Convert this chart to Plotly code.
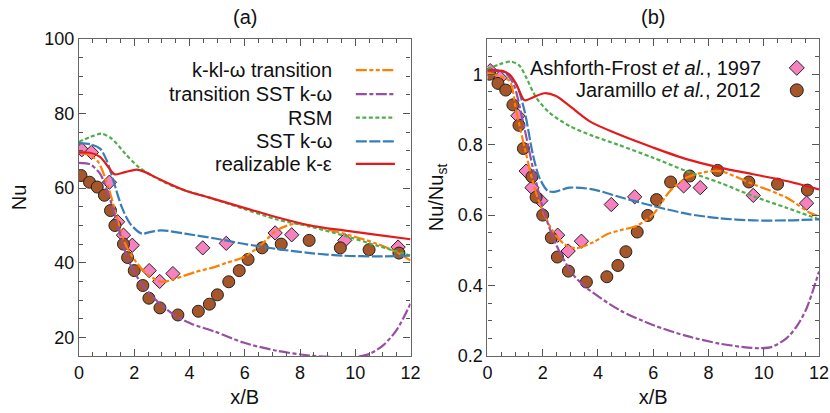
import plotly.graph_objects as go
from plotly.subplots import make_subplots

# ---------------- data: panel (a) Nu ----------------
red_a_x = [0, 0.4, 0.76, 1.06, 1.3, 1.67, 2.09, 2.39, 3.0, 3.84, 4.75, 5.95, 7.16, 8.37, 9.58, 10.79, 12]
red_a_y = [69.6, 69.5, 68.4, 65.7, 63.7, 64.3, 65.0, 64.3, 62.1, 59.4, 57.4, 54.8, 52.2, 50.0, 48.7, 47.5, 46.3]

green_a_x = [0, 0.4, 0.82, 1.18, 1.67, 2.15, 2.63, 3.48, 4.75, 5.95, 7.16, 8.37, 9.58, 10.79, 12]
green_a_y = [72.4, 73.7, 74.6, 73.3, 69.3, 65.7, 63.4, 60.3, 57.4, 54.5, 51.6, 49.7, 47.3, 44.6, 41.9]

blue_a_x = [0, 0.4, 0.76, 1.0, 1.24, 1.55, 1.85, 2.27, 2.6, 3.0, 3.84, 4.93, 5.95, 7.16, 8.37, 9.58, 10.79, 12]
blue_a_y = [72.1, 71.8, 70.6, 67.5, 62.1, 54.9, 50.5, 47.8, 48.3, 48.7, 47.8, 46.5, 45.1, 43.7, 42.6, 41.9, 41.7, 41.9]

orange_a_x = [0, 0.4, 0.7, 1.06, 1.37, 1.67, 2.03, 2.45, 3.0, 3.48, 4.2, 4.93, 5.35, 5.95, 6.56, 7.16, 7.76, 8.37, 9.58, 10.79, 11.5, 12]
orange_a_y = [69.6, 68.8, 67.0, 60.3, 52.2, 45.1, 40.6, 37.0, 34.9, 35.7, 37.5, 38.9, 40.0, 41.5, 44.6, 48.7, 50.4, 50.0, 47.8, 45.1, 42.8, 40.6]

purple_a_x = [0, 0.4, 0.76, 1.06, 1.42, 1.79, 2.27, 2.87, 3.48, 4.08, 4.93, 5.95, 7.16, 8.37, 9.2, 9.9, 10.5, 11.03, 11.5, 12]
purple_a_y = [66.8, 66.4, 63.9, 58.5, 49.5, 40.6, 34.3, 29.4, 25.8, 23.6, 21.5, 18.6, 16.4, 15.1, 14.7, 14.6, 15.5, 18.0, 22.0, 29.0]

# experiments (panel a)
jar_x = [0.07, 0.38, 0.66, 0.92, 1.14, 1.3, 1.61, 1.76, 2.0, 2.31, 2.53, 2.93, 3.58, 4.32, 4.72, 5.01, 5.42, 5.8, 6.12, 6.63, 7.32, 8.33, 9.46, 10.5, 11.58]
jar_a_y = [63.4, 61.6, 60.3, 58.1, 54.0, 50.0, 45.0, 41.4, 37.9, 33.9, 30.5, 27.9, 26.0, 27.0, 28.9, 31.4, 34.9, 37.9, 40.9, 44.0, 45.0, 46.0, 44.0, 43.5, 42.6]
ash_x = [0.1, 0.45, 1.1, 1.4, 1.61, 1.93, 2.54, 2.92, 3.4, 4.48, 5.33, 7.1, 7.7, 9.62, 11.55]
ash_a_y = [70.3, 69.6, 61.6, 51.0, 47.4, 44.7, 37.9, 35.0, 37.1, 44.0, 45.2, 48.0, 47.5, 46.0, 44.2]

# ---------------- data: panel (b) Nu/Nu_st ----------------
red_b_x = [0, 0.55, 0.85, 1.1, 1.34, 1.64, 2.06, 2.48, 2.97, 3.69, 4.72, 5.99, 7.2, 8.41, 9.61, 10.82, 12]
red_b_y = [1.011, 1.009, 0.995, 0.962, 0.926, 0.934, 0.946, 0.938, 0.91, 0.867, 0.83, 0.792, 0.759, 0.735, 0.716, 0.697, 0.673]

green_b_x = [0, 0.43, 0.85, 1.16, 1.4, 1.76, 2.24, 2.97, 3.81, 4.72, 5.99, 7.2, 8.41, 9.61, 10.82, 12]
green_b_y = [1.014, 1.028, 1.036, 1.024, 0.991, 0.934, 0.891, 0.853, 0.825, 0.80, 0.763, 0.725, 0.692, 0.654, 0.621, 0.588]

blue_b_x = [0, 0.67, 1.04, 1.34, 1.64, 1.88, 2.18, 2.42, 2.97, 3.81, 4.85, 5.99, 7.2, 8.41, 9.61, 10.82, 12]
blue_b_y = [1.009, 1.005, 0.972, 0.896, 0.773, 0.706, 0.669, 0.666, 0.678, 0.673, 0.65, 0.626, 0.604, 0.591, 0.585, 0.585, 0.588]

orange_b_x = [0, 0.4, 0.8, 1.04, 1.4, 1.7, 2.0, 2.36, 2.79, 3.2, 3.81, 4.31, 4.85, 5.39, 5.99, 6.6, 7.2, 7.8, 8.41, 9.61, 10.82, 11.66, 12]
orange_b_y = [1.005, 0.995, 0.981, 0.896, 0.773, 0.678, 0.612, 0.555, 0.517, 0.506, 0.522, 0.545, 0.558, 0.569, 0.602, 0.668, 0.706, 0.721, 0.725, 0.688, 0.65, 0.607, 0.597]

purple_b_x = [0, 0.55, 0.92, 1.28, 1.64, 2.0, 2.48, 3.09, 3.58, 4.79, 5.99, 7.2, 8.41, 9.2, 9.85, 10.3, 10.82, 11.2, 11.55, 12]
purple_b_y = [1.01, 1.009, 0.976, 0.867, 0.735, 0.621, 0.517, 0.432, 0.394, 0.33, 0.288, 0.257, 0.235, 0.226, 0.222, 0.226, 0.25, 0.285, 0.335, 0.44]

jar_b_y = [1.0, 0.974, 0.955, 0.913, 0.855, 0.789, 0.709, 0.651, 0.60, 0.536, 0.481, 0.441, 0.41, 0.425, 0.457, 0.496, 0.552, 0.599, 0.644, 0.694, 0.711, 0.727, 0.694, 0.688, 0.671]
ash_b_y = [1.01, 0.99, 0.882, 0.725, 0.678, 0.641, 0.543, 0.498, 0.526, 0.63, 0.652, 0.683, 0.678, 0.656, 0.634]

x_ticks = [0, 2, 4, 6, 8, 10, 12]
ya_ticks = [20, 40, 60, 80, 100]
yb_ticks = [0.2, 0.4, 0.6, 0.8, 1.0]
yb_ticktext = ["0.2", "0.4", "0.6", "0.8", "1"]

model_names = ["k-kl-ω transition", "transition SST k-ω", "RSM", "SST k-ω", "realizable k-ε"]
exp_names = ["Ashforth-Frost <i>et al.</i>, 1997", "Jaramillo <i>et al.</i>, 2012"]

# ---------------- styles ----------------
C_ORANGE = "#FF7F00"
C_PURPLE = "#984EA3"
C_GREEN = "#4DAF4A"
C_BLUE = "#377EB8"
C_RED = "#E41A1C"
C_PINK = "#F781BF"
C_BROWN = "#A65628"
D_ORANGE = "11px,2.5px,4px,2.5px,4px,2.5px"
D_PURPLE = "11px,2.5px,4px,2.5px"
D_GREEN = "4px,2.5px"
D_BLUE = "11px,2.5px"
FONT = "Liberation Sans, Arial, sans-serif"
LW = 2.2
TXT = "#111111"

styles = [(C_ORANGE, D_ORANGE), (C_PURPLE, D_PURPLE), (C_GREEN, D_GREEN), (C_BLUE, D_BLUE), (C_RED, "solid")]

fig = make_subplots(rows=1, cols=2, horizontal_spacing=0.104)

panels = [
    (1, [(orange_a_x, orange_a_y), (purple_a_x, purple_a_y), (green_a_x, green_a_y), (blue_a_x, blue_a_y), (red_a_x, red_a_y)],
     jar_a_y, ash_a_y),
    (2, [(orange_b_x, orange_b_y), (purple_b_x, purple_b_y), (green_b_x, green_b_y), (blue_b_x, blue_b_y), (red_b_x, red_b_y)],
     jar_b_y, ash_b_y),
]

for col, lines, jy, ay in panels:
    fig.add_trace(go.Scatter(x=ash_x, y=ay, mode="markers", showlegend=False,
                             marker=dict(symbol="diamond", size=11, color=C_PINK,
                                         line=dict(color="#222222", width=1))), row=1, col=col)
    fig.add_trace(go.Scatter(x=jar_x, y=jy, mode="markers", showlegend=False,
                             marker=dict(symbol="circle", size=12, color=C_BROWN,
                                         line=dict(color="#222222", width=1))), row=1, col=col)
    for (lx, ly), (c, d), nm in zip(lines, styles, model_names):
        fig.add_trace(go.Scatter(x=lx, y=ly, mode="lines", name=nm, showlegend=False,
                                 line=dict(color=c, dash=d, width=LW, shape="spline", smoothing=0.8)),
                      row=1, col=col)

axis_common = dict(showline=True, linecolor="#666666", linewidth=1.3, mirror="allticks",
                   ticks="inside", ticklen=7, tickwidth=1.2, tickcolor="#555555",
                   showgrid=False, zeroline=False, automargin=False,
                   tickfont=dict(family=FONT, size=18, color=TXT),
                   title_font=dict(family=FONT, size=20, color=TXT))

for col in (1, 2):
    fig.update_xaxes(range=[0, 12], tickvals=x_ticks, title_text="x/B", title_standoff=8,
                     minor=dict(ticks="inside", dtick=0.5, tick0=0, ticklen=4, tickcolor="#555555", showgrid=False),
                     row=1, col=col, **axis_common)

fig.update_yaxes(range=[15, 100], tickvals=ya_ticks, title_text="Nu", title_standoff=12,
                 minor=dict(ticks="inside", dtick=5, tick0=0, ticklen=4, tickcolor="#555555", showgrid=False),
                 row=1, col=1, **axis_common)
fig.update_yaxes(range=[0.2, 1.1], tickvals=yb_ticks, ticktext=yb_ticktext, title_text="Nu/Nu<sub>st</sub>",
                 title_standoff=8,
                 minor=dict(ticks="inside", dtick=0.05, tick0=0, ticklen=4, tickcolor="#555555", showgrid=False),
                 row=1, col=2, **axis_common)

annotations = []
shapes = []
# panel titles
for xr, yr, t in (("x domain", "y domain", "(a)"), ("x2 domain", "y2 domain", "(b)")):
    annotations.append(dict(x=0.5, y=1, xref=xr, yref=yr, text=t, showarrow=False,
                            yanchor="bottom", yshift=9, font=dict(family=FONT, size=20, color=TXT)))

# legend (a): text right aligned, line samples on the right
leg_rows_a = [0.902, 0.826, 0.752, 0.677, 0.606]
for nm, (c, d), yy in zip(model_names, styles, leg_rows_a):
    annotations.append(dict(x=0.77, y=yy, xref="x domain", yref="y domain", text=nm, showarrow=False,
                            xanchor="right", yanchor="middle", font=dict(family=FONT, size=20, color=TXT)))
    shapes.append(dict(type="line", xref="x domain", yref="y domain", x0=0.835, x1=0.953, y0=yy, y1=yy,
                       line=dict(color=c, dash=d, width=LW)))

# legend (b): experiments
leg_rows_b = [0.909, 0.838]
for nm, yy in zip(exp_names, leg_rows_b):
    annotations.append(dict(x=0.83, y=yy, xref="x2 domain", yref="y2 domain", text=nm, showarrow=False,
                            xanchor="right", yanchor="middle", font=dict(family=FONT, size=20, color=TXT)))
shapes.append(dict(type="path", xref="x2 domain", yref="y2 domain", xsizemode="pixel", ysizemode="pixel",
                   xanchor=0.933, yanchor=leg_rows_b[0], path="M 0 -7.5 L 7.5 0 L 0 7.5 L -7.5 0 Z",
                   fillcolor=C_PINK, line=dict(color="#222222", width=1)))
shapes.append(dict(type="circle", xref="x2 domain", yref="y2 domain", xsizemode="pixel", ysizemode="pixel",
                   xanchor=0.933, yanchor=leg_rows_b[1], x0=-6.5, x1=6.5, y0=-6.5, y1=6.5,
                   fillcolor=C_BROWN, line=dict(color="#222222", width=1)))

fig.update_layout(width=830, height=413, margin=dict(l=79, r=11, t=39, b=57, autoexpand=False),
                  plot_bgcolor="white", paper_bgcolor="white", showlegend=False,
                  annotations=annotations, shapes=shapes,
                  font=dict(family=FONT, size=18, color=TXT))

fig.write_html("out.html")
